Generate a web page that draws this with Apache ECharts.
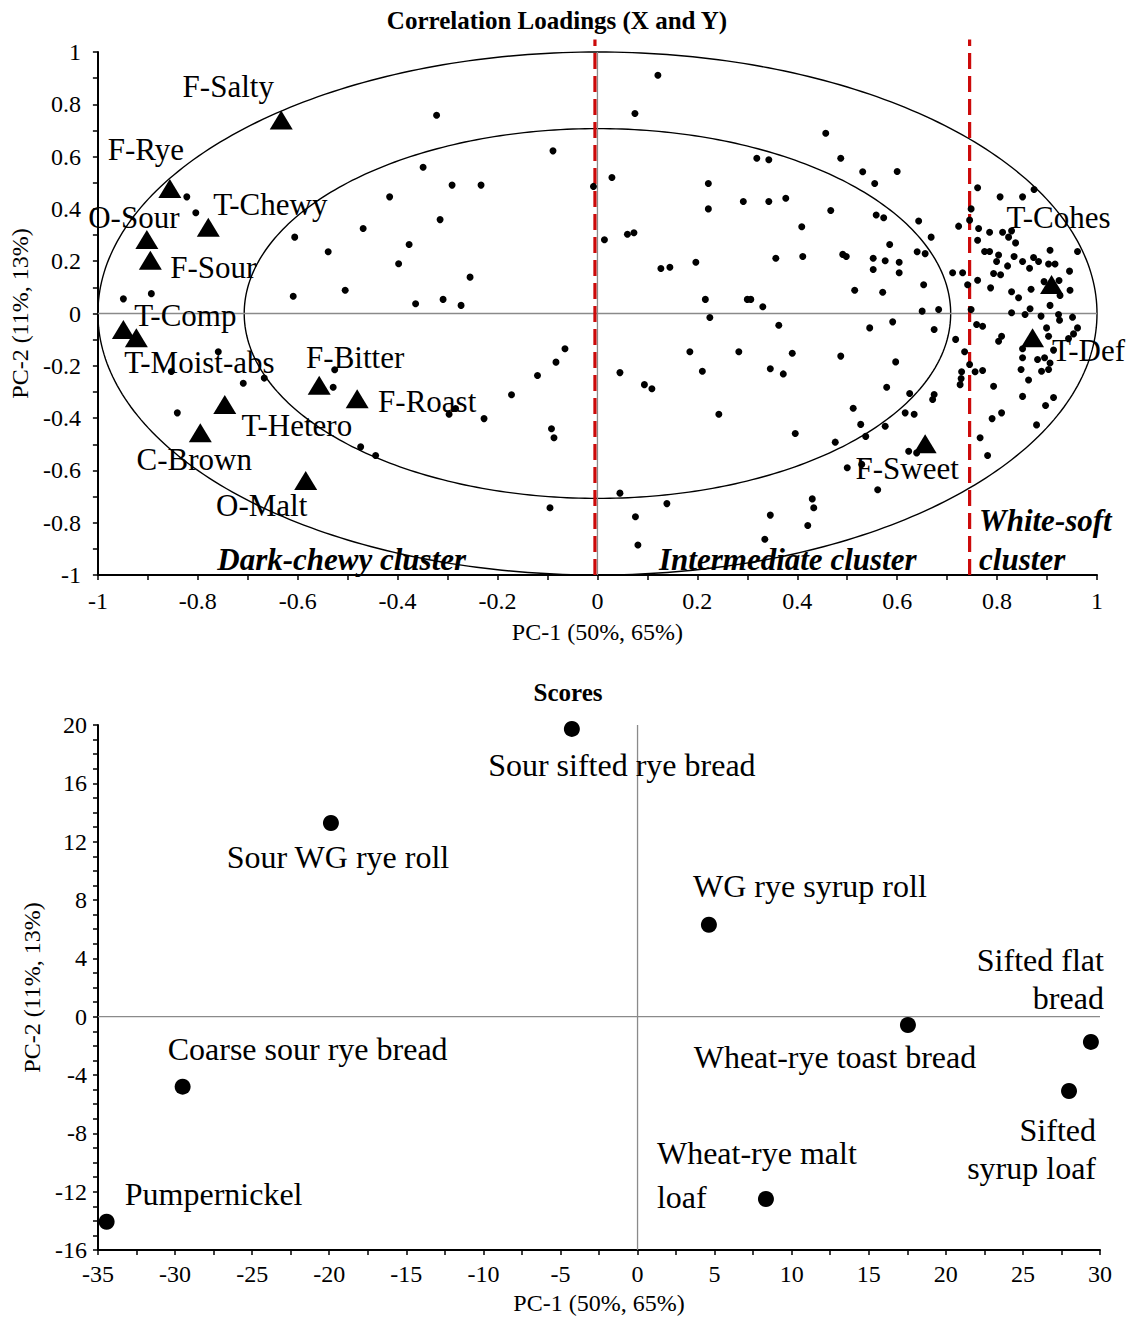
<!DOCTYPE html>
<html>
<head>
<meta charset="utf-8">
<title>Correlation Loadings and Scores</title>
<script src="https://cdn.jsdelivr.net/npm/echarts@6.0.0/dist/echarts.min.js"></script>
<style>
html,body{margin:0;padding:0;background:#fff;}
#chart{width:1133px;height:1317px;}
</style>
</head>
<body>
<div id="chart"></div>
<script>
// ---------------- DATA ----------------
const CHART_TITLES = ['Correlation Loadings (X and Y)', 'Scores'];
const AXIS_TITLES = { x: 'PC-1 (50%, 65%)', y: 'PC-2 (11%, 13%)' };

// tick labels
const LOADING_TICKS = [-1, -0.8, -0.6, -0.4, -0.2, 0, 0.2, 0.4, 0.6, 0.8, 1];
const SCORE_X_TICKS = [-35, -30, -25, -20, -15, -10, -5, 0, 5, 10, 15, 20, 25, 30];
const SCORE_Y_TICKS = [-16, -12, -8, -4, 0, 4, 8, 12, 16, 20];

// X-variables (sensory attributes) – triangles
const VARIABLE_NAMES = ['F-Salty', 'F-Rye', 'O-Sour', 'F-Sour', 'T-Chewy', 'T-Comp', 'T-Moist-abs',
  'T-Hetero', 'C-Brown', 'O-Malt', 'F-Bitter', 'F-Roast', 'F-Sweet', 'T-Cohes', 'T-Def'];
const VARIABLE_PC1 = [-0.633, -0.856, -0.902, -0.895, -0.779, -0.949, -0.923,
  -0.746, -0.795, -0.584, -0.557, -0.481, 0.656, 0.909, 0.871];
const VARIABLE_PC2 = [0.740, 0.478, 0.283, 0.204, 0.330, -0.061, -0.093,
  -0.348, -0.456, -0.639, -0.274, -0.326, -0.498, 0.111, -0.093];

// Y-variables (consumers) – small dots [PC-1, PC-2]
const CONSUMER_LOADINGS = [
  [-0.822,0.446],[-0.804,0.385],[-0.349,0.559],[-0.416,0.446],[-0.469,0.325],[-0.606,0.292],
  [-0.377,0.264],[-0.539,0.236],[-0.398,0.190],[-0.949,0.056],[-0.893,0.076],[-0.609,0.066],
  [-0.505,0.089],[-0.364,0.037],[-0.322,0.758],[0.121,0.911],[0.075,0.765],[-0.089,0.622],
  [-0.291,0.491],[-0.233,0.491],[-0.008,0.486],[0.029,0.520],[-0.315,0.359],[0.222,0.497],
  [0.319,0.594],[0.343,0.588],[0.292,0.428],[0.343,0.428],[0.222,0.400],[0.014,0.282],
  [0.060,0.303],[0.073,0.309],[0.127,0.172],[0.145,0.177],[0.197,0.196],[-0.255,0.139],
  [-0.309,0.054],[-0.273,0.031],[0.216,0.054],[0.300,0.054],[0.307,0.054],[0.331,0.026],
  [0.457,0.689],[0.487,0.594],[0.531,0.542],[0.600,0.543],[0.555,0.497],[0.377,0.441],
  [0.467,0.394],[0.409,0.332],[0.558,0.377],[0.573,0.366],[0.643,0.354],[0.668,0.292],
  [0.585,0.264],[0.357,0.211],[0.411,0.218],[0.491,0.226],[0.498,0.218],[0.552,0.211],
  [0.576,0.202],[0.604,0.196],[0.552,0.168],[0.604,0.156],[0.640,0.236],[0.656,0.229],
  [0.515,0.089],[0.571,0.081],[0.653,0.110],[0.650,0.009],[0.683,0.015],[0.711,0.156],
  [0.731,0.156],[0.741,0.110],[0.748,0.015],[0.761,0.481],[0.806,0.446],[0.851,0.446],
  [0.874,0.474],[0.748,0.400],[0.745,0.357],[0.723,0.334],[0.763,0.325],[0.785,0.311],
  [0.811,0.311],[0.829,0.316],[0.823,0.292],[0.761,0.280],[0.837,0.270],[0.775,0.237],
  [0.785,0.237],[0.803,0.224],[0.834,0.218],[0.799,0.199],[0.851,0.199],[0.873,0.214],
  [0.883,0.199],[0.906,0.242],[0.961,0.237],[0.821,0.182],[0.865,0.173],[0.903,0.189],
  [0.916,0.189],[0.945,0.162],[0.793,0.153],[0.807,0.148],[0.761,0.127],[0.787,0.098],
  [0.829,0.083],[0.868,0.093],[0.843,0.060],[0.926,0.069],[0.946,0.089],[0.906,0.031],
  [0.866,0.018],[0.894,0.122],[0.924,0.126],[0.829,0.003],[0.856,-0.004],[0.888,-0.010],
  [0.923,-0.004],[0.925,-0.026],[0.951,-0.014],[0.899,-0.055],[0.961,-0.055],[0.953,-0.078],
  [0.943,-0.096],[0.903,-0.087],[0.759,-0.042],[0.771,-0.049],[0.717,-0.099],[0.809,-0.087],
  [0.803,-0.106],[0.735,-0.146],[0.851,-0.135],[0.913,-0.140],[0.851,-0.169],[0.881,-0.176],
  [0.895,-0.169],[0.906,-0.189],[0.745,-0.195],[0.729,-0.223],[0.756,-0.223],[0.771,-0.218],
  [0.848,-0.214],[0.889,-0.221],[0.903,-0.214],[0.728,-0.249],[0.726,-0.272],[0.863,-0.254],
  [0.793,-0.278],[0.851,-0.317],[0.913,-0.321],[0.897,-0.352],[0.809,-0.380],[0.790,-0.402],
  [0.879,-0.426],[0.766,-0.475],[0.781,-0.543],[0.363,-0.045],[0.346,-0.211],[0.390,-0.152],
  [0.372,-0.231],[0.545,-0.055],[0.591,-0.032],[0.674,-0.061],[0.487,-0.163],[0.597,-0.185],
  [0.579,-0.282],[0.625,-0.306],[0.674,-0.310],[0.671,-0.329],[0.512,-0.362],[0.616,-0.380],
  [0.634,-0.385],[0.527,-0.424],[0.576,-0.431],[0.396,-0.459],[0.537,-0.470],[0.476,-0.492],
  [0.623,-0.527],[0.639,-0.533],[0.500,-0.590],[0.529,-0.577],[0.561,-0.674],[0.430,-0.709],
  [0.433,-0.743],[0.346,-0.771],[0.421,-0.811],[0.225,-0.015],[-0.065,-0.135],[-0.083,-0.186],
  [-0.120,-0.237],[-0.172,-0.311],[-0.297,-0.385],[-0.284,-0.363],[-0.227,-0.402],[-0.092,-0.441],
  [-0.087,-0.475],[0.045,-0.226],[0.094,-0.272],[0.109,-0.288],[0.185,-0.146],[0.283,-0.146],
  [0.210,-0.221],[0.243,-0.385],[0.045,-0.687],[-0.095,-0.743],[0.076,-0.777],[0.139,-0.727],
  [0.081,-0.885],[0.335,-0.863],[-0.759,-0.146],[-0.853,-0.222],[-0.709,-0.267],[-0.667,-0.247],
  [-0.526,-0.215],[-0.529,-0.282],[-0.841,-0.380],[-0.474,-0.510],[-0.444,-0.543]
];

// cluster boundaries (PC-1) and correlation circle radii (100% and 50% explained variance)
const CLUSTER_NAMES = ['Dark-chewy cluster', 'Intermediate cluster', 'White-soft', 'cluster'];
const CLUSTER_BOUNDARIES = [-0.005, 0.745];
const CORRELATION_RADII = [1, 0.7071];

// Scores – samples
const SAMPLE_NAMES = ['Sour sifted rye bread', 'Sour WG rye roll', 'WG rye syrup roll', 'Wheat-rye toast bread',
  'Sifted flat bread', 'Sifted syrup loaf', 'Coarse sour rye bread', 'Pumpernickel', 'Wheat-rye malt loaf'];
const SAMPLE_PC1 = [-4.26, -19.89, 4.63, 17.54, 29.41, 27.99, -29.51, -34.44, 8.33];
const SAMPLE_PC2 = [19.73, 13.28, 6.30, -0.57, -1.73, -5.10, -4.80, -14.06, -12.50];

// ---------------- LAYOUT / STYLE ----------------
const SERIF = "'Liberation Serif', 'Times New Roman', Times, serif";
const VARIABLE_LABEL_LAYOUT = {
  'F-Salty': [-53, -33], 'F-Rye': [-24, -39], 'O-Sour': [-13, -22], 'F-Sour': [63, 7],
  'T-Chewy': [62, -23], 'T-Comp': [62, -14], 'T-Moist-abs': [63, 25], 'T-Hetero': [72, 21],
  'C-Brown': [-6, 27], 'O-Malt': [-44, 25], 'F-Bitter': [36, -28], 'F-Roast': [70, 3],
  'F-Sweet': [-18, 25], 'T-Cohes': [7, -67], 'T-Def': [56, 13]
};
const SAMPLE_LABEL_LAYOUT = {
  'Sour sifted rye bread': { offset: [50, 36] },
  'Sour WG rye roll': { offset: [7, 34] },
  'WG rye syrup roll': { offset: [101, -39] },
  'Wheat-rye toast bread': { offset: [-73, 32] },
  'Sifted flat bread': { text: 'Sifted flat\nbread', offset: [13, -63], align: 'right', lineHeight: 38 },
  'Sifted syrup loaf': { text: 'Sifted\nsyrup loaf', offset: [27, 58], align: 'right', lineHeight: 38 },
  'Coarse sour rye bread': { offset: [125, -38] },
  'Pumpernickel': { offset: [107, -28] },
  'Wheat-rye malt loaf': { text: 'Wheat-rye malt\nloaf', offset: [-109, -24], align: 'left', lineHeight: 44 }
};
// cluster caption anchors in data coordinates of the loadings plot
const CLUSTER_LABEL_LAYOUT = [
  { at: [-0.512, -0.939], align: 'center' },
  { at: [0.381, -0.939], align: 'center' },
  { at: [0.764, -0.792], align: 'left' },
  { at: [0.764, -0.939], align: 'left' }
];
const RED_LINE_TOP = 1.048;

function ticksToRange(t) {
  return { min: t[0], max: t[t.length - 1], interval: +(t[1] - t[0]).toFixed(6) };
}

function makeAxis(gridIndex, ticks, name, nameGap, labelMargin, minorSplit) {
  return Object.assign({
    type: 'value',
    gridIndex: gridIndex,
    name: name,
    nameLocation: 'middle',
    nameGap: nameGap,
    nameTextStyle: { color: '#000', fontFamily: SERIF, fontSize: 24 },
    splitLine: { show: false },
    axisLine: { show: true, onZero: false, lineStyle: { color: '#000', width: 2 } },
    axisTick: { show: true, length: 5, lineStyle: { color: '#000', width: 1.5 } },
    minorTick: { show: true, splitNumber: minorSplit, length: 5, lineStyle: { color: '#000', width: 1.5 } },
    axisLabel: { color: '#000', fontFamily: SERIF, fontSize: 24, margin: labelMargin },
    silent: true
  }, ticksToRange(ticks));
}

function lineEl(a, b, style) {
  return { type: 'line', shape: { x1: a[0], y1: a[1], x2: b[0], y2: b[1] }, style: style };
}

const GRAY = { stroke: '#8a8a8a', lineWidth: 1.3 };

function renderLoadingsFrame(params, api) {
  const children = [];
  CORRELATION_RADII.forEach(function (r) {
    const pts = [];
    for (let d = 0; d <= 360; d += 1) {
      const a = d * Math.PI / 180;
      pts.push(api.coord([r * Math.cos(a), r * Math.sin(a)]));
    }
    children.push({ type: 'polyline', shape: { points: pts }, style: { stroke: '#000', lineWidth: 1.4, fill: 'none' } });
  });
  const lo = LOADING_TICKS[0], hi = LOADING_TICKS[LOADING_TICKS.length - 1];
  children.push(lineEl(api.coord([lo, 0]), api.coord([hi, 0]), GRAY));
  children.push(lineEl(api.coord([0, lo]), api.coord([0, hi]), GRAY));
  CLUSTER_BOUNDARIES.forEach(function (b) {
    children.push(lineEl(api.coord([b, lo]), api.coord([b, RED_LINE_TOP]),
      { stroke: '#cc0a0a', lineWidth: 3.2, lineDash: [16, 7] }));
  });
  CLUSTER_NAMES.forEach(function (t, i) {
    const p = api.coord(CLUSTER_LABEL_LAYOUT[i].at);
    children.push({ type: 'text', style: {
      text: t, x: p[0], y: p[1], fill: '#000',
      font: "italic bold 31px " + SERIF, align: CLUSTER_LABEL_LAYOUT[i].align, verticalAlign: 'middle'
    } });
  });
  return { type: 'group', children: children };
}

function renderScoresFrame(params, api) {
  const x0 = SCORE_X_TICKS[0], x1 = SCORE_X_TICKS[SCORE_X_TICKS.length - 1];
  const y0 = SCORE_Y_TICKS[0], y1 = SCORE_Y_TICKS[SCORE_Y_TICKS.length - 1];
  return { type: 'group', children: [
    lineEl(api.coord([x0, 0]), api.coord([x1, 0]), GRAY),
    lineEl(api.coord([0, y0]), api.coord([0, y1]), GRAY)
  ] };
}

const option = {
  animation: false,
  backgroundColor: '#ffffff',
  graphic: [
    { type: 'text', x: 557, y: 20, style: { text: CHART_TITLES[0], font: 'bold 25px ' + SERIF, fill: '#000', align: 'center', verticalAlign: 'middle' } },
    { type: 'text', x: 568, y: 692, style: { text: CHART_TITLES[1], font: 'bold 25px ' + SERIF, fill: '#000', align: 'center', verticalAlign: 'middle' } }
  ],
  grid: [
    { left: 97, top: 52, width: 1000, height: 523 },
    { left: 98, top: 725, width: 1002, height: 525 }
  ],
  xAxis: [
    makeAxis(0, LOADING_TICKS, AXIS_TITLES.x, 45, 14, 2),
    makeAxis(1, SCORE_X_TICKS, AXIS_TITLES.x, 41, 12, 2)
  ],
  yAxis: [
    makeAxis(0, LOADING_TICKS, AXIS_TITLES.y, 63, 17, 2),
    makeAxis(1, SCORE_Y_TICKS, AXIS_TITLES.y, 52, 11, 4)
  ],
  series: [
    {
      type: 'custom', name: 'frame-loadings', xAxisIndex: 0, yAxisIndex: 0,
      data: [[0, 0]], renderItem: renderLoadingsFrame, silent: true, clip: false, z: 1
    },
    {
      type: 'scatter', name: 'Consumers', xAxisIndex: 0, yAxisIndex: 0,
      symbol: 'circle', symbolSize: 7, itemStyle: { color: '#000', opacity: 1 }, silent: true, z: 3,
      data: CONSUMER_LOADINGS
    },
    {
      type: 'scatter', name: 'Attributes', xAxisIndex: 0, yAxisIndex: 0,
      symbol: 'triangle', symbolSize: [23, 19], itemStyle: { color: '#000', opacity: 1 }, silent: true, z: 4,
      label: { show: true, position: 'inside', formatter: '{b}', color: '#000', fontFamily: SERIF, fontSize: 31,
        align: 'center', verticalAlign: 'middle' },
      data: VARIABLE_NAMES.map(function (n, i) {
        return { name: n, value: [VARIABLE_PC1[i], VARIABLE_PC2[i]], label: { offset: VARIABLE_LABEL_LAYOUT[n] } };
      })
    },
    {
      type: 'custom', name: 'frame-scores', xAxisIndex: 1, yAxisIndex: 1,
      data: [[0, 0]], renderItem: renderScoresFrame, silent: true, clip: false, z: 1
    },
    {
      type: 'scatter', name: 'Samples', xAxisIndex: 1, yAxisIndex: 1,
      symbol: 'circle', symbolSize: 16, itemStyle: { color: '#000', opacity: 1 }, silent: true, z: 3,
      label: { show: true, position: 'inside', color: '#000', fontFamily: SERIF, fontSize: 32, verticalAlign: 'middle' },
      data: SAMPLE_NAMES.map(function (n, i) {
        const L = SAMPLE_LABEL_LAYOUT[n];
        const lab = { offset: L.offset, formatter: L.text || n, align: L.align || 'center' };
        if (L.lineHeight) lab.lineHeight = L.lineHeight;
        return { name: n, value: [SAMPLE_PC1[i], SAMPLE_PC2[i]], label: lab };
      })
    }
  ]
};

const chart = echarts.init(document.getElementById('chart'), null, { renderer: 'svg', width: 1133, height: 1317 });
chart.setOption(option);
</script>
</body>
</html>
